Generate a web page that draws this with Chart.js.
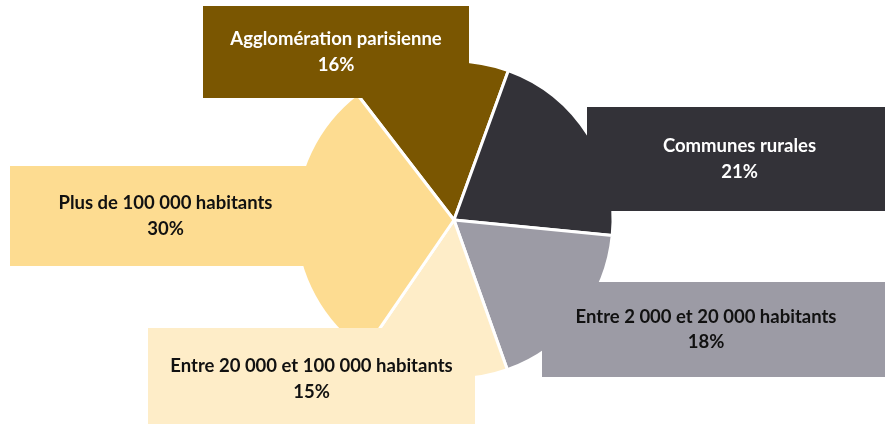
<!DOCTYPE html>
<html lang="fr">

<head>
    <meta charset="UTF-8">
    <script src="https://cdn.jsdelivr.net/npm/chart.js"></script>
    <title>Répartition par taille de commune</title>
    <style>
        body { margin: 0; background: #fff; }
        #wrap { width: 885px; height: 424px; position: relative; }
    </style>
</head>

<body>
    <div id="wrap">
        <canvas id="parts"></canvas>
    </div>
</body>

</html>
<script>
    // données
    const categories = ['Agglomération parisienne', 'Communes rurales', 'Entre 2 000 et 20 000 habitants',
        'Entre 20 000 et 100 000 habitants', 'Plus de 100 000 habitants'];
    const parts = [16, 21, 18, 15, 30];

    const couleurs = ['#7a5601', '#333238', '#9c9ba5', '#feedc8', '#fddc91'];
    const couleursTexte = ['#ffffff', '#ffffff', '#111111', '#111111', '#111111'];

    // cadres des étiquettes, relatifs au centre du camembert (x0, y0, x1, y1, centre du texte)
    const cadres = [
        [-251, -214, 15, -122, -118],
        [133, -113, 440, -9, 285.5],
        [88, 62, 440, 157, 252],
        [-306, 108, 21, 210, -142.5],
        [-444, -54, -133, 46, -288.5]
    ];

    const etiquettes = {
        id: 'etiquettes',
        afterDatasetsDraw(chart) {
            const ctx = chart.ctx;
            const arc = chart.getDatasetMeta(0).data[0];
            const cx = arc.x, cy = arc.y;
            ctx.save();
            ctx.font = 'bold 18.5px Lato';
            ctx.textAlign = 'center';
            ctx.textBaseline = 'middle';
            cadres.forEach(function (c, i) {
                ctx.fillStyle = couleurs[i];
                ctx.fillRect(cx + c[0], cy + c[1], c[2] - c[0], c[3] - c[1]);
                const my = cy + (c[1] + c[3]) / 2;
                ctx.fillStyle = couleursTexte[i];
                ctx.fillText(categories[i], cx + c[4], my - 12.5);
                ctx.fillText(parts[i] + '%', cx + c[4], my + 13);
            });
            ctx.restore();
        }
    };

    const grafico = document.getElementById('parts');

    new Chart(grafico, {
        type: 'pie',
        data: {
            labels: categories,
            datasets: [{
                data: parts,
                backgroundColor: couleurs,
                borderColor: '#ffffff',
                borderWidth: 3,
                hoverOffset: 0
            }]
        },
        options: {
            responsive: true,
            maintainAspectRatio: false,
            animation: false,
            rotation: -37.6,
            radius: 159,
            layout: { padding: { left: 23, top: 16, right: 0, bottom: 0 } },
            plugins: {
                legend: { display: false },
                tooltip: { enabled: false }
            }
        },
        plugins: [etiquettes]
    });
</script>
